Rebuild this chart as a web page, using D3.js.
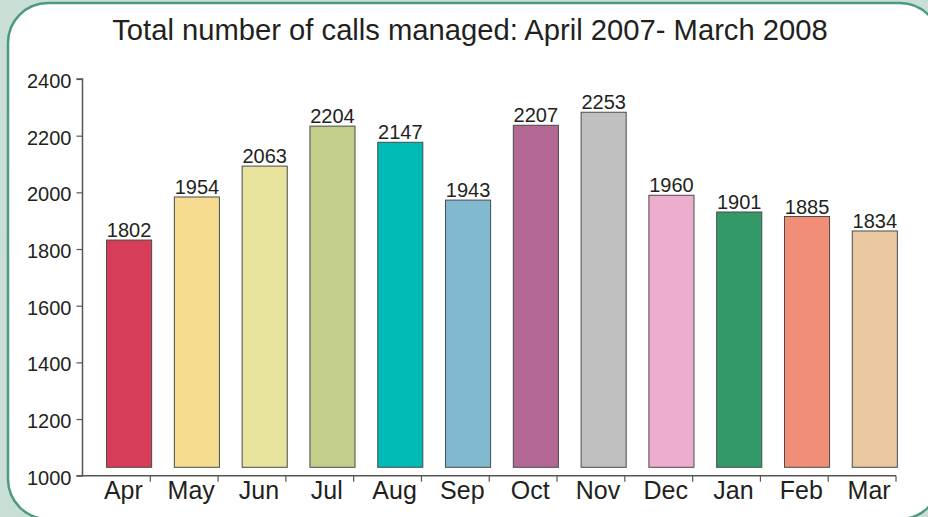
<!DOCTYPE html>
<html>
<head>
<meta charset="utf-8">
<script src="https://cdn.jsdelivr.net/npm/d3@7"></script>
<style>
  html, body { margin: 0; padding: 0; background: #c9ded5; }
  svg { display: block; }
  text { font-family: "Liberation Sans", Arial, Helvetica, sans-serif; fill: #231f20; }
</style>
</head>
<body>
<svg id="chart" width="928" height="517"></svg>
<script>
const title = "Total number of calls managed: April 2007- March 2008";
const months = ["Apr", "May", "Jun", "Jul", "Aug", "Sep", "Oct", "Nov", "Dec", "Jan", "Feb", "Mar"];
const calls = [1802, 1954, 2063, 2204, 2147, 1943, 2207, 2253, 1960, 1901, 1885, 1834];
const colors = ["#d63d57", "#f5dc90", "#e8e49d", "#c3cd8c", "#00bab5", "#80b9d0",
                "#b46896", "#c0c0c0", "#ecadcf", "#339968", "#f18e77", "#e9c8a1"];
const yTicks = [1000, 1200, 1400, 1600, 1800, 2000, 2200, 2400];

const svg = d3.select("#chart");

// panel
svg.append("rect")
  .attr("x", 8).attr("y", 3)
  .attr("width", 932).attr("height", 516)
  .attr("rx", 40).attr("ry", 40)
  .attr("fill", "#ffffff")
  .attr("stroke", "#4b9a80").attr("stroke-width", 2.5);

svg.append("text")
  .attr("x", 470).attr("y", 40)
  .attr("text-anchor", "middle")
  .attr("font-size", 29.2)
  .text(title);

const x = d3.scaleBand().domain(months).range([82.5, 896]).padding(0);
const y = d3.scaleLinear().domain([1000, 2400]).range([475.7, 79]);

const lift = 8.4;        // bars are drawn slightly raised/shifted (pseudo-3D look)
const barOffset = 0.355; // fraction of band before bar starts
const barWidthFrac = 0.665;

// bars
svg.append("g").selectAll("rect")
  .data(months)
  .join("rect")
  .attr("x", (m) => x(m) + x.bandwidth() * barOffset)
  .attr("width", x.bandwidth() * barWidthFrac)
  .attr("y", (m, i) => y(calls[i]) - lift)
  .attr("height", (m, i) => y(1000) - y(calls[i]))
  .attr("fill", (m, i) => colors[i])
  .attr("stroke", "#4a4a4a")
  .attr("stroke-width", 1);

// value labels
svg.append("g").selectAll("text")
  .data(months)
  .join("text")
  .attr("x", (m) => x(m) + x.bandwidth() * (barOffset + barWidthFrac / 2))
  .attr("y", (m, i) => y(calls[i]) - lift - 3)
  .attr("text-anchor", "middle")
  .attr("font-size", 20)
  .text((m, i) => calls[i]);

// y axis
const yAxis = d3.axisLeft(y).tickValues(yTicks).tickSize(6).tickPadding(5).tickFormat(d3.format("d"));
const gy = svg.append("g").attr("transform", "translate(82.5,0)").call(yAxis);
gy.select(".domain").attr("stroke", "#555").attr("stroke-width", 1.5).attr("d", "M-6,79H0V475.7H-6");
gy.selectAll(".tick line").attr("stroke", "#555").attr("stroke-width", 1.2);
gy.selectAll(".tick text")
  .attr("font-size", 20)
  .attr("fill", "#231f20")
  .attr("dy", "0.43em");

// x axis
const gx = svg.append("g").attr("transform", "translate(0,475.7)");
gx.append("line")
  .attr("x1", x.range()[0]).attr("x2", x.range()[1])
  .attr("stroke", "#555").attr("stroke-width", 1.5);
gx.selectAll("line.tk")
  .data(months)
  .join("line")
  .attr("class", "tk")
  .attr("x1", (m) => x(m) + x.bandwidth())
  .attr("x2", (m) => x(m) + x.bandwidth())
  .attr("y1", 0).attr("y2", 6)
  .attr("stroke", "#555").attr("stroke-width", 1.2);
gx.selectAll("text")
  .data(months)
  .join("text")
  .attr("x", (m) => x(m) + x.bandwidth() / 2 + 7)
  .attr("y", 23.5)
  .attr("text-anchor", "middle")
  .attr("font-size", 25)
  .text((m) => m);
</script>
</body>
</html>
